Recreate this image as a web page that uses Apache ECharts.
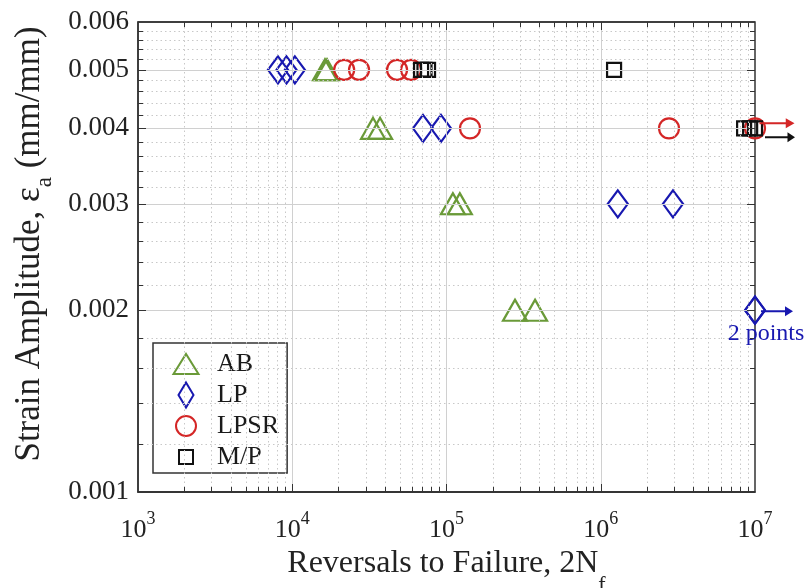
<!DOCTYPE html>
<html>
<head>
<meta charset="utf-8">
<script src="https://cdn.jsdelivr.net/npm/echarts@6/dist/echarts.min.js"></script>
<style>
  html, body { margin: 0; padding: 0; background: #fff; }
  #main { width: 808px; height: 588px; }
</style>
</head>
<body>
<div id="main"></div>
<script>
// reversals to failure (2Nf) vs strain amplitude
var abX = [16300, 16800, 33400, 37100, 110000, 122000, 278000, 375000];
var abY = [0.005, 0.005, 0.004, 0.004, 0.003, 0.003, 0.002, 0.002];

var lpX = [8080, 9180, 10400, 70400, 92100, 1290000, 2940000, 10000000, 10000000];
var lpY = [0.005, 0.005, 0.005, 0.004, 0.004, 0.003, 0.003, 0.002, 0.002];

var lpsrX = [21700, 27100, 47800, 58900, 142000, 2770000, 10000000];
var lpsrY = [0.005, 0.005, 0.005, 0.005, 0.004, 0.004, 0.004];

var mpX = [68400, 72000, 75900, 1220000, 8500000, 9300000, 10000000];
var mpY = [0.005, 0.005, 0.005, 0.005, 0.004, 0.004, 0.004];

var seriesNames = ['AB', 'LP', 'LPSR', 'M/P'];
var yTickValues = [0.001, 0.002, 0.003, 0.004, 0.005, 0.006];
var yTickLabels = ['0.001', '0.002', '0.003', '0.004', '0.005', '0.006'];
var xMin = 1e3, xMax = 1e7, yMin = 0.001, yMax = 0.006;

var FONT = "'Liberation Serif', 'DejaVu Serif', serif";
var C_AB = '#6a9a38', C_LP = '#1818b0', C_LPSR = '#d42626', C_MP = '#111111';

var gridL = 138, gridT = 22, gridW = 617, gridH = 470;

function pairs(xs, ys) {
  return xs.map(function (x, i) { return [x, ys[i]]; });
}

// grid line / tick positions
var xMajor = [1e4, 1e5, 1e6];
var xMinor = [];
for (var d = 3; d < 7; d++) {
  for (var k = 2; k <= 9; k++) xMinor.push(k * Math.pow(10, d));
}
var yMinor = [];
for (var i = 12; i < 60; i += 2) {
  if (i % 10 !== 0) yMinor.push(i / 10000);
}
var yMajor = [0.002, 0.003, 0.004, 0.005];

// tick length converted to data space on each log axis
var xPxPerDec = gridW / Math.log10(xMax / xMin);
var yPxPerDec = gridH / Math.log10(yMax / yMin);
function xStep(px) { return Math.pow(10, px / xPxPerDec); }
function yStep(px) { return Math.pow(10, px / yPxPerDec); }

var tickLines = [];
function addXTick(v, len) {
  tickLines.push([{ coord: [v, yMin] }, { coord: [v, yMin * yStep(len)] }]);
  tickLines.push([{ coord: [v, yMax] }, { coord: [v, yMax / yStep(len)] }]);
}
function addYTick(v, len) {
  tickLines.push([{ coord: [xMin, v] }, { coord: [xMin * xStep(len), v] }]);
  tickLines.push([{ coord: [xMax, v] }, { coord: [xMax / xStep(len), v] }]);
}
xMajor.forEach(function (v) { addXTick(v, 8); });
xMinor.forEach(function (v) { addXTick(v, 5); });
yMajor.forEach(function (v) { addYTick(v, 8); });
yMinor.forEach(function (v) { addYTick(v, 5); });

function vLine(v) { return [{ coord: [v, yMin] }, { coord: [v, yMax] }]; }
function hLine(v) { return [{ coord: [xMin, v] }, { coord: [xMax, v] }]; }

var minorLines = xMinor.map(vLine).concat(yMinor.map(hLine));
var majorLines = xMajor.map(vLine);
yTickValues.forEach(function (v, i) {
  var line = hLine(v);
  line[0].label = { show: true, position: 'start', formatter: yTickLabels[i] };
  if (v === yMin || v === yMax) line[0].lineStyle = { color: '#333', width: 1.5 };
  majorLines.push(line);
});

var arrowPath = 'path://M0,4L24,4L24,0L32,5L24,10L24,6L0,6Z';

// legend icons: the two leading moves fix a 26x26 box so every marker keeps its own size
var legendIcons = {
  'AB': 'path://M0,0M26,26M0.5,23L25.5,23L13,3Z',
  'LP': 'path://M0,0M26,26M13,0.5L20.5,13L13,25.5L5.5,13Z',
  'LPSR': 'path://M0,0M26,26M23,13A10,10,0,1,1,3,13A10,10,0,1,1,23,13Z',
  'M/P': 'path://M0,0M26,26M6,6L20,6L20,20L6,20Z'
};

function markerSeries(name, xs, ys, symbol, size, color) {
  return {
    name: name,
    type: 'scatter',
    symbol: symbol,
    symbolSize: size,
    clip: false,
    z: 4,
    itemStyle: { color: 'rgba(255,255,255,0)', borderColor: color, borderWidth: 2.2, opacity: 1 },
    data: pairs(xs, ys)
  };
}

var chart = echarts.init(document.getElementById('main'));

var option = {
  backgroundColor: '#fff',
  animation: false,
  grid: {
    left: gridL, top: gridT, width: gridW, height: gridH,
    outerBoundsMode: 'none',
    containLabel: false,
    show: true, borderColor: '#333', borderWidth: 1.5, backgroundColor: 'transparent'
  },
  legend: {
    data: seriesNames.map(function (n) { return { name: n, icon: legendIcons[n] }; }),
    orient: 'vertical',
    left: 153,
    top: 343,
    itemWidth: 52,
    itemHeight: 26,
    itemGap: 3,
    padding: [7, 8, 2, 19],
    selectedMode: false,
    symbolKeepAspect: true,
    backgroundColor: '#fff',
    borderColor: '#333',
    borderWidth: 1.5,
    textStyle: { fontFamily: FONT, fontSize: 26, color: '#1a1a1a' }
  },
  xAxis: {
    type: 'log',
    logBase: 10,
    min: xMin,
    max: xMax,
    axisLine: { show: true, lineStyle: { color: '#333', width: 1.5 } },
    axisTick: { show: false },
    splitLine: { show: false },
    axisLabel: {
      margin: 18,
      formatter: function (v) {
        return '{b|10}{s|' + Math.round(Math.log10(v)) + '}';
      },
      rich: {
        b: { fontFamily: FONT, fontSize: 26, color: '#222' },
        s: { fontFamily: FONT, fontSize: 18, color: '#222', padding: [0, 0, 22, 0] }
      }
    },
    name: '{t|Reversals to Failure, 2N}{f|f}',
    nameLocation: 'middle',
    nameGap: 39,
    nameTextStyle: {
      rich: {
        t: { fontFamily: FONT, fontSize: 32, color: '#222' },
        f: { fontFamily: FONT, fontSize: 22, color: '#222', padding: [42, 0, 0, 0] }
      }
    }
  },
  yAxis: {
    type: 'log',
    logBase: 10,
    min: yMin,
    max: yMax,
    axisLine: { show: true, lineStyle: { color: '#333', width: 1.5 } },
    axisTick: { show: false },
    axisLabel: { show: false },
    splitLine: { show: false },
    name: '{t|Strain Amplitude, \u03b5}{a|a}{t| (mm/mm)}',
    nameLocation: 'middle',
    nameRotate: 90,
    nameGap: 82,
    nameTextStyle: {
      padding: [0, 0, 0, 26],
      rich: {
        t: { fontFamily: FONT, fontSize: 35, color: '#222' },
        a: { fontFamily: FONT, fontSize: 23, color: '#222', padding: [30, 0, 0, 0] }
      }
    }
  },
  series: [
    {
      name: 'gridMinor',
      type: 'scatter',
      data: [],
      z: 1,
      markLine: {
        silent: true,
        symbol: ['none', 'none'],
        label: { show: false },
        lineStyle: { color: '#c8c8c8', width: 1, type: [1.5, 3] },
        data: minorLines
      }
    },
    {
      name: 'gridMajor',
      type: 'scatter',
      data: [],
      z: 2,
      markLine: {
        silent: true,
        symbol: ['none', 'none'],
        label: {
          show: false,
          distance: 9,
          fontFamily: FONT,
          fontSize: 27,
          color: '#222'
        },
        lineStyle: { color: '#d0d0d0', width: 1, type: 'solid' },
        data: majorLines
      }
    },
    {
      name: 'ticks',
      type: 'scatter',
      data: [],
      z: 3,
      markLine: {
        silent: true,
        symbol: ['none', 'none'],
        label: { show: false },
        lineStyle: { color: '#333', width: 1, type: 'solid' },
        data: tickLines
      }
    },
    markerSeries('AB', abX, abY, 'triangle', [24, 21], C_AB),
    markerSeries('LP', lpX, lpY, 'diamond', [20, 27], C_LP),
    markerSeries('LPSR', lpsrX, lpsrY, 'circle', 20, C_LPSR),
    markerSeries('M/P', mpX, mpY, 'rect', 14, C_MP),
    {
      name: 'runout',
      type: 'scatter',
      symbol: arrowPath,
      symbolKeepAspect: false,
      clip: false,
      z: 5,
      itemStyle: { opacity: 1 },
      data: [
        {
          value: [lpsrX[lpsrX.length - 1], lpsrY[lpsrY.length - 1]],
          symbolSize: [35, 10], symbolOffset: [22, -5],
          itemStyle: { color: C_LPSR }
        },
        {
          value: [mpX[mpX.length - 1], mpY[mpY.length - 1]],
          symbolSize: [30, 10], symbolOffset: [25, 9],
          itemStyle: { color: C_MP }
        },
        {
          value: [lpX[lpX.length - 1], lpY[lpY.length - 1]],
          symbolSize: [32, 10], symbolOffset: [22, 1],
          itemStyle: { color: C_LP },
          label: {
            show: true,
            position: 'inside',
            offset: [-11, 23],
            formatter: '2 points',
            fontFamily: FONT,
            fontSize: 24,
            color: C_LP
          }
        }
      ]
    }
  ]
};

chart.setOption(option);
</script>
</body>
</html>
